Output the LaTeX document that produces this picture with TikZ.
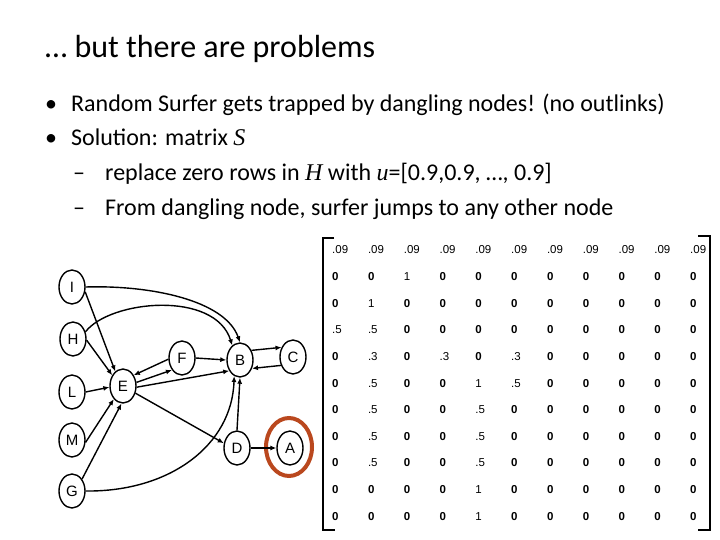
\documentclass[tikz,border=0pt]{standalone}
\usepackage{fontspec}
\setmainfont{Carlito}
\newfontfamily\arialf{Liberation Sans}
\newfontfamily\timesf{Liberation Serif}
\usetikzlibrary{arrows.meta,shapes.geometric}
\definecolor{ringc}{RGB}{186,72,30}
\def\zeroval{0}
\begin{document}
\begin{tikzpicture}[x=1pt,y=-1pt,
  gnode/.style={draw, ellipse, line width=1.4pt, minimum width=26pt, minimum height=34pt, inner sep=0pt, font=\arialf\fontsize{15}{15}\selectfont},
  arr/.style={line width=1.4pt, -{Latex[length=6pt,width=5pt]}},
  txt/.style={anchor=base west, inner sep=0pt, font=\fontsize{24}{24}\selectfont},
  mat/.style={anchor=base west, inner sep=0pt, font=\arialf\fontsize{11.5}{11.5}\selectfont},
  brk/.style={line width=2pt}]
\useasboundingbox (0,0) rectangle (720,540);
% title and bullets
\node[anchor=base west, inner sep=0pt, font=\fontsize{32}{32}\selectfont] (title) at (45,58) {… but there are problems};
\node[txt] (b1) at (45,111.5) {•};
\node[txt] (t1) at (71,111.5) {Random Surfer gets trapped by dangling nodes! (no outlinks)};
\node[txt] (b2) at (45,145.5) {•};
\node[txt] (t2) at (71,145.5) {Solution: matrix {\timesf\itshape S}};
\node[txt] (d1) at (73,180.5) {–};
\node[txt] (t3) at (105,180.5) {replace zero rows in {\timesf\itshape H} with {\timesf\itshape u}=[0.9,0.9, …, 0.9]};
\node[txt] (d2) at (73,215.5) {–};
\node[txt] (t4) at (105,215.5) {From dangling node, surfer jumps to any other node};
% graph nodes
\node[gnode] (I) at (72,287) {I};
\node[gnode] (H) at (73,339) {H};
\node[gnode] (L) at (72,392) {L};
\node[gnode] (M) at (72,440) {M};
\node[gnode] (G) at (72,491) {G};
\node[gnode] (E) at (123,386) {E};
\node[gnode] (F) at (182,358) {F};
\node[gnode] (B) at (240,360) {B};
\node[gnode] (C) at (293,357) {C};
\node[gnode] (D) at (237,448) {D};
\node[gnode] (A) at (290,448) {A};
\node[draw=ringc, line width=4pt, ellipse, minimum width=46pt, minimum height=58pt, inner sep=0pt] (ring) at (289,447) {};
% edges
\draw[arr] (I.-20) -- (E.118);
\draw[arr] (H.-5) -- (E.135);
\draw[arr] (L.east) -- (E.185);
\draw[arr] (M.-10) -- (E.235);
\draw[arr] (G.50) -- (E.265);
\draw[arr] (I.east) .. controls (150,285) and (225,300) .. (B.north);
\draw[arr] (H.30) .. controls (110,300) and (215,290) .. (B.118);
\draw[arr] (G.east) .. controls (170,492) and (232,445) .. (B.250);
\draw[arr] (E.15) -- (F.230);
\draw[arr] (F.185) -- (E.45);
\draw[arr] (F.east) -- (B.west);
\draw[arr] (E.-5) -- (B.225);
\draw[arr] (E.-30) -- (D.160);
\draw[arr] (D.north) -- (B.south);
\draw[arr] (D.east) -- (A.west);
\draw[arr] (B.40) -- (C.140);
\draw[arr] (C.215) -- (B.-35);
% matrix
\foreach \row [count=\r] in {
 {.09,.09,.09,.09,.09,.09,.09,.09,.09,.09,.09},
 {0,0,1,0,0,0,0,0,0,0,0},
 {0,1,0,0,0,0,0,0,0,0,0},
 {.5,.5,0,0,0,0,0,0,0,0,0},
 {0,.3,0,.3,0,.3,0,0,0,0,0},
 {0,.5,0,0,1,.5,0,0,0,0,0},
 {0,.5,0,0,.5,0,0,0,0,0,0},
 {0,.5,0,0,.5,0,0,0,0,0,0},
 {0,.5,0,0,.5,0,0,0,0,0,0},
 {0,0,0,0,1,0,0,0,0,0,0},
 {0,0,0,0,1,0,0,0,0,0,0}}{
  \foreach \v [count=\c] in \row {
    \edef\cellval{\v}%
    \node[mat] (m\r-\c) at ({332+35.8*(\c-1)},{254+26.6*(\r-1)}) {\ifx\cellval\zeroval\bfseries\fi\v};
  }
}
\draw[brk] (334,238) -- (323,238) -- (323,530) -- (335,530);
\draw[brk] (698,236) -- (710,236) -- (710,530) -- (698,530);
\end{tikzpicture}
\end{document}
